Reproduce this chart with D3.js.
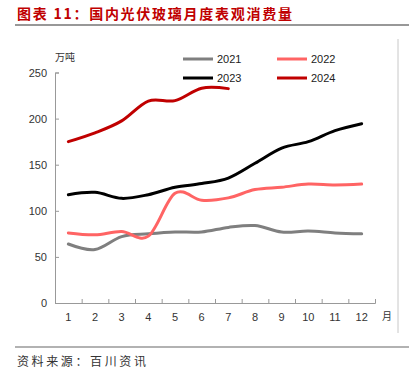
<!DOCTYPE html>
<html><head><meta charset="utf-8">
<script src="https://cdn.jsdelivr.net/npm/d3@7/dist/d3.min.js"></script>
<style>body{margin:0;background:#fff}svg{display:block}</style>
</head><body>
<script>
const months = ["1","2","3","4","5","6","7","8","9","10","11","12"];
const yTicks = [0,50,100,150,200,250];
const seriesNames = ["2021","2022","2023","2024"];
const v2021 = [64,58,72,75,77,77,82,84,77,78,76,75];
const v2022 = [76,74,77.5,72.5,119,111.5,114,123,125.5,129,128,129];
const v2023 = [117.5,120,113.5,117.5,125.5,129.5,135.5,151.5,168,175,187,194.5];
const v2024 = [175,184.5,197.5,219,219.5,233,232.5];
const seriesColors = ["#7f7f7f","#ff6464","#000000","#c00000"];

const W=409,H=383;
const svg=d3.select("body").append("svg").attr("width",W).attr("height",H);
const cjk='"Noto Sans CJK SC","Noto Sans",sans-serif';
const lat='"Liberation Sans",Arial,sans-serif';

// title
svg.append("text").attr("x",17).attr("y",19).attr("fill","#c00000")
  .attr("font-family",cjk).attr("font-weight","bold").attr("font-size",14)
  .attr("textLength",275).attr("lengthAdjust","spacing")
  .text("图表 11：国内光伏玻璃月度表观消费量");
svg.append("line").attr("x1",15).attr("x2",409).attr("y1",25).attr("y2",25)
  .attr("stroke","#333").attr("stroke-width",1.2);
// bottom
svg.append("line").attr("x1",15).attr("x2",409).attr("y1",347).attr("y2",347)
  .attr("stroke","#666").attr("stroke-width",1.2);
svg.append("text").attr("x",17).attr("y",366).attr("fill","#333")
  .attr("font-family",cjk).attr("font-size",12)
  .attr("textLength",129).attr("lengthAdjust","spacing")
  .text("资料来源：百川资讯");
// right frame line
svg.append("line").attr("x1",398).attr("x2",398).attr("y1",39).attr("y2",333)
  .attr("stroke","#c8c8c8").attr("stroke-width",1);

const x=d3.scaleLinear().domain([0.5,12.5]).range([55,375]);
const y=d3.scaleLinear().domain([0,250]).range([303,72.5]);

// y axis
const ya=svg.append("g").attr("transform","translate(55,0)")
  .call(d3.axisLeft(y).tickValues(yTicks).tickSize(-4).tickPadding(8));
ya.select(".domain").attr("stroke","#999");
ya.selectAll(".tick line").attr("stroke","#999");
ya.selectAll("text").attr("font-family",lat).attr("font-size",11).attr("fill","#333");

// x axis
const xa=svg.append("g").attr("transform","translate(0,303)")
  .call(d3.axisBottom(x).tickValues(d3.range(0.5,13,1)).tickSize(-4).tickFormat(""));
xa.select(".domain").attr("stroke","#999");
xa.selectAll(".tick line").attr("stroke","#999");
svg.append("g").selectAll("text").data(months).join("text")
  .attr("x",(d,i)=>x(i+1)).attr("y",321).attr("text-anchor","middle")
  .attr("font-family",lat).attr("font-size",11).attr("fill","#333").text(d=>d);

svg.append("text").attr("x",55).attr("y",61).attr("font-family",cjk).attr("font-size",10).attr("fill","#333").text("万吨");
svg.append("text").attr("x",382).attr("y",320).attr("font-family",cjk).attr("font-size",10).attr("fill","#333").text("月");

const data=[v2021,v2022,v2023,v2024];
const line=d3.line().x((d,i)=>x(i+1)).y(d=>y(d)).curve(d3.curveCardinal.tension(0));
svg.append("g").selectAll("path").data(data).join("path")
  .attr("d",d=>line(d)).attr("fill","none")
  .attr("stroke",(d,i)=>seriesColors[i]).attr("stroke-width",3).attr("stroke-linecap","round");

// legend
const lg=[{x:183,y:59},{x:277,y:59},{x:183,y:78},{x:277,y:78}];
seriesNames.forEach((n,i)=>{
  const g=svg.append("g").attr("transform",`translate(${lg[i].x},${lg[i].y})`);
  g.append("line").attr("x1",0).attr("x2",30).attr("stroke",seriesColors[i]).attr("stroke-width",3);
  g.append("text").attr("x",34).attr("y",4).attr("font-family",lat).attr("font-size",11).attr("fill","#222").text(n);
});
</script>
</body></html>
